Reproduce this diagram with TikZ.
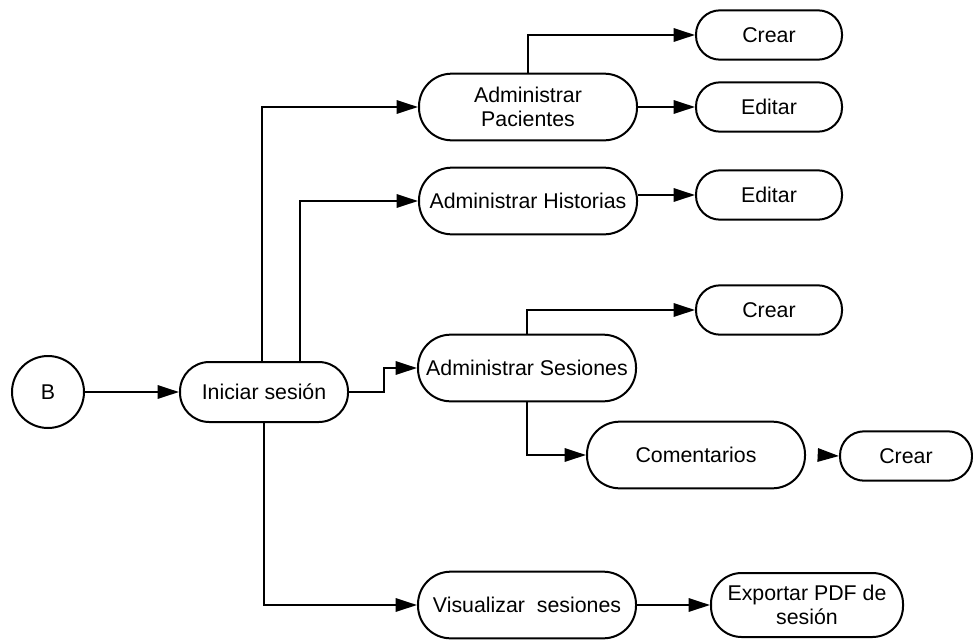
\documentclass[tikz,border=0pt]{standalone}
\usepackage{fontspec}
\setmainfont{Liberation Sans}
\usepackage{tikz}
\usetikzlibrary{arrows.meta}
\usetikzlibrary{calc}
\usetikzlibrary{positioning}

\tikzset{
  proc/.style={draw,line width=1.5pt,rounded corners=24.5pt,align=center,inner sep=1pt,
    minimum width=163.5pt,minimum height=50pt,font=\fontsize{16pt}{18pt}\selectfont},
  small/.style={proc,rounded corners=18pt,minimum width=109.5pt,minimum height=37pt},
  flow/.style={line width=1.5pt,-{Triangle[length=16pt,width=10pt]}}
}

\begin{document}
\begin{tikzpicture}[line cap=butt,line join=miter,x=0.75pt,y=-0.75pt]
% Draw region settings
\useasboundingbox (0,0) rectangle (973,639);
% Start
\node[draw,circle,line width=1.5pt,minimum size=54pt,font=\fontsize{16pt}{18pt}\selectfont] (b) at (48,392) {B};
\node[proc,rounded corners=22pt,minimum width=126pt,minimum height=45pt] (ini) at (264,392) {Iniciar sesión};
% Modules
\node[proc] (pac) at (528,107) {Administrar\\Pacientes};
\node[proc] (his) at (528,201) {Administrar Historias};
\node[proc] (ses) at (527,368) {Administrar Sesiones};
\node[proc] (com) at (696,455) {Comentarios};
\node[proc] (vis) at (527,605) {Visualizar~ sesiones};
% Actions
\node[small] (cr1) at (769,35) {Crear};
\node[small] (ed1) at (769,107) {Editar};
\node[small] (ed2) at (769,195) {Editar};
\node[small] (cr2) at (769,310) {Crear};
\node[small,minimum width=99pt] (cr3) at (906,456) {Crear};
\node[proc,rounded corners=23pt,minimum width=144pt,minimum height=48pt] (exp) at (807,605) {Exportar PDF de\\sesión};
% Connectors
\draw[flow] (b) -- (ini);
\draw[flow] ($(ini.north)+(-2,0)$) |- (pac.west);
\draw[flow] ($(ini.north)+(36,0)$) |- (his.west);
\draw[flow] (ini.east) -- ++(35,0) |- (ses.west);
\draw[flow] (ini.south) |- (vis.west);
\draw[flow] (pac.north) |- (cr1.west);
\draw[flow] (pac.east) -- (ed1.west);
\draw[flow] (his.east |- ed2.west) -- (ed2.west);
\draw[flow] (ses.north) |- (cr2.west);
\draw[flow] (ses.south) |- (com.west);
\draw[flow] ([xshift=9pt]com.east) -- (cr3.west);
\draw[flow] (vis.east) -- (exp.west);
\end{tikzpicture}
\end{document}
